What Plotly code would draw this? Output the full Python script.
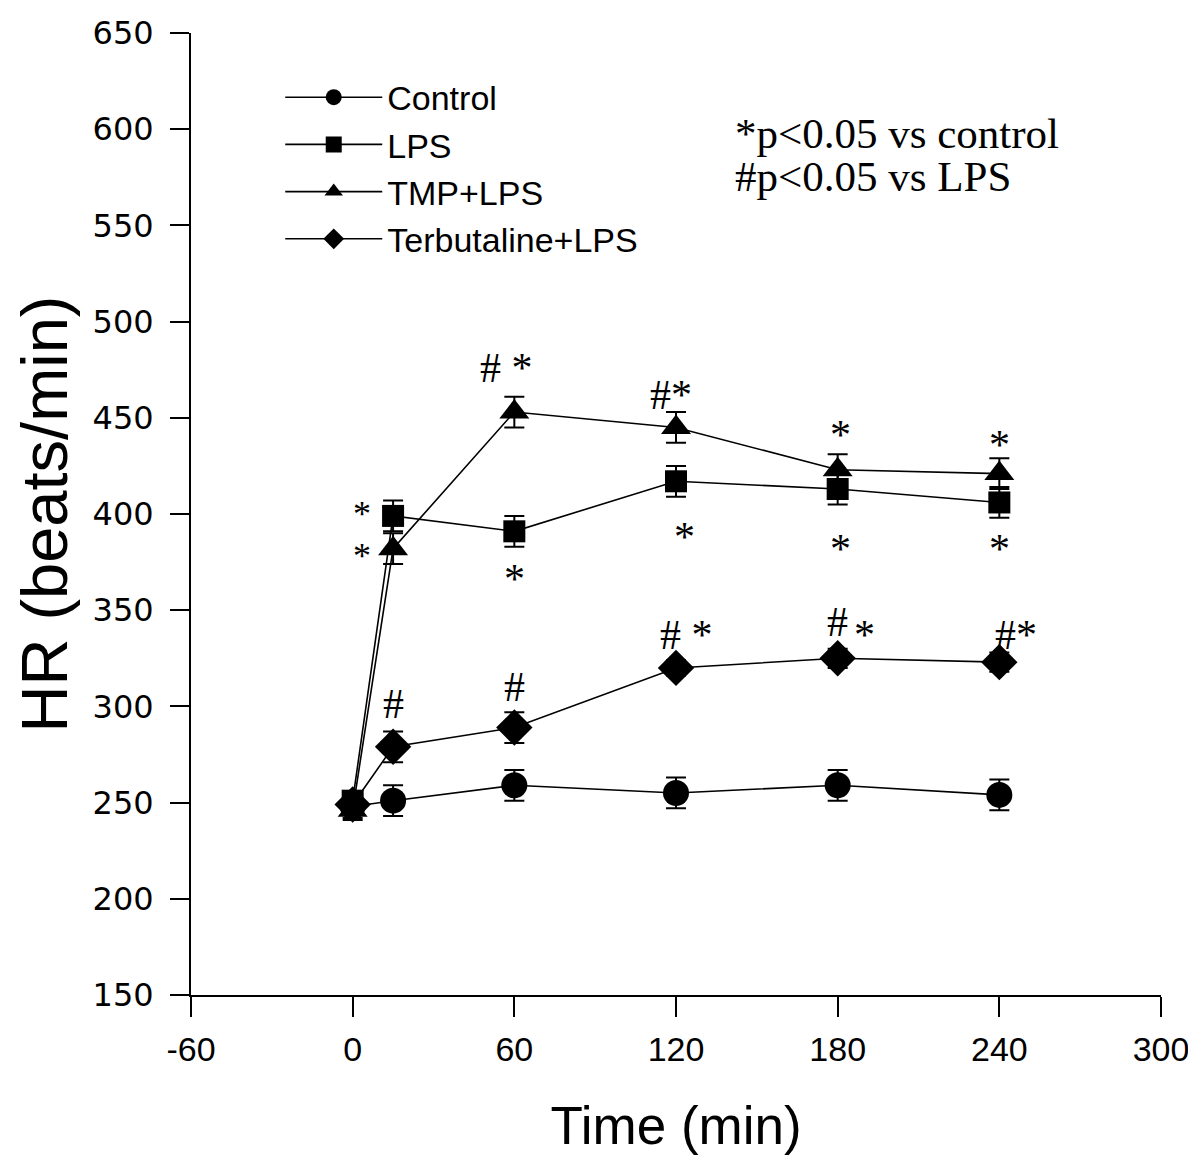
import plotly.graph_objects as go

time = [0, 15, 60, 120, 180, 240]

control = [248, 251, 259, 255, 259, 254]
control_se = [6, 8, 8, 8, 8, 8]
lps = [251, 399, 391, 417, 413, 406]
lps_se = [5, 8, 8, 8, 8, 8]
tmp_lps = [246, 382, 453, 445, 423, 421]
tmp_lps_se = [5, 8, 8, 8, 8, 8]
terb_lps = [249, 279, 289, 320, 325, 323]
terb_lps_se = [5, 8, 8, 4, 5, 5]

series_names = ["Control", "LPS", "TMP+LPS", "Terbutaline+LPS"]
symbols = ["circle", "square", "triangle-up", "diamond"]
sizes = [26, 22, 26, 28]

# significance labels: (x, y, text, font size)
sig_labels = [
    (3.5, 400, "*", 36), (3.5, 378, "*", 36),
    (15, 301, "#", 42),
    (60, 310, "#", 42), (57, 476, "# *", 42), (60, 366, "*", 42),
    (118, 462, "#*", 42), (123, 388, "*", 42), (124, 337, "# *", 42),
    (181, 441, "*", 42), (181, 382, "*", 42), (180, 344, "#", 42), (190, 337, "*", 42),
    (240, 436, "*", 42), (240, 382, "*", 42), (246, 337, "#*", 42),
]

note_lines = ["*p<0.05 vs control", "#p<0.05 vs LPS"]

x_ticks = [-60, 0, 60, 120, 180, 240, 300]
x_tick_text = ["-60", "0", "60", "120", "180", "240", "300"]
y_ticks = [150, 200, 250, 300, 350, 400, 450, 500, 550, 600, 650]

fig = go.Figure()
for name, vals, se, sym, sz in zip(series_names,
                                   [control, lps, tmp_lps, terb_lps],
                                   [control_se, lps_se, tmp_lps_se, terb_lps_se],
                                   symbols, sizes):
    fig.add_trace(go.Scatter(
        x=time, y=vals, name=name, mode="lines+markers",
        line=dict(color="black", width=1.6),
        marker=dict(symbol=sym, size=sz, color="black"),
        error_y=dict(type="data", array=se, visible=True, color="black",
                     thickness=2, width=10),
    ))

for x, y, t, fs in sig_labels:
    fig.add_annotation(x=x, y=y, text=t, showarrow=False,
                       font=dict(family="Liberation Serif", size=fs, color="black"))

for i, line in enumerate(note_lines):
    fig.add_annotation(x=0.559, y=0.896 - i * 0.045, xref="paper", yref="paper",
                       xanchor="left", yanchor="middle", text=line, showarrow=False,
                       font=dict(family="Liberation Serif", size=43, color="black"))

fig.update_layout(
    width=1196, height=1159,
    margin=dict(l=183, r=43, t=25, b=172),
    plot_bgcolor="white", paper_bgcolor="white",
    showlegend=True,
    legend=dict(x=0.092, y=0.963, xanchor="left", yanchor="top",
                font=dict(family="Liberation Sans", size=34, color="black"),
                bgcolor="rgba(0,0,0,0)", itemwidth=97, tracegroupgap=0),
    xaxis=dict(range=[-60, 300], tickvals=x_ticks, ticktext=x_tick_text, ticks="outside", ticklen=20,
               tickwidth=2, tickcolor="black", showline=True, linecolor="black",
               linewidth=2, showgrid=False, zeroline=False, ticklabelstandoff=3,
               automargin=False,
               tickfont=dict(family="Liberation Sans", size=34, color="black"),
               title=dict(text="Time (min)", font=dict(family="Liberation Sans", size=53, color="black"),
                          standoff=40)),
    yaxis=dict(range=[150, 650], tickvals=y_ticks, ticks="outside", ticklen=19,
               tickwidth=2, tickcolor="black", showline=True, linecolor="black",
               linewidth=2, showgrid=False, zeroline=False, ticklabelstandoff=10,
               automargin=False,
               tickfont=dict(family="DejaVu Sans", size=32, color="black"),
               title=dict(text="HR (beats/min)", font=dict(family="Liberation Sans", size=65, color="black"),
                          standoff=40)),
)

fig.write_html("out.html")
